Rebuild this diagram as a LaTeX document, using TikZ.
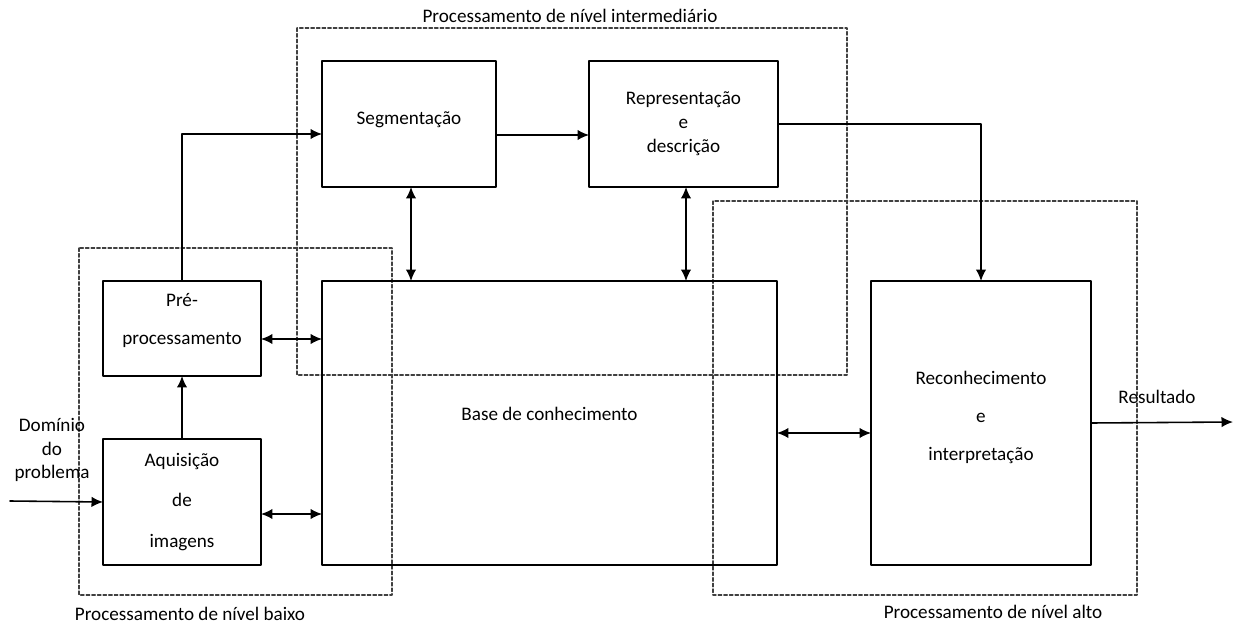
\documentclass[tikz,border=0pt]{standalone}
\usepackage{fontspec}
\setmainfont{Carlito}
\usetikzlibrary{arrows.meta, positioning, calc}

\begin{document}
\begin{tikzpicture}[x=0.02cm, y=-0.02cm, >={Latex[length=2.3mm,width=2.1mm]}, line cap=round, line join=round,
	font=\fontsize{10.9}{13.6}\selectfont]
	
	\tikzset{
		bloco/.style={draw, line width=0.9pt, inner sep=0pt, outer sep=0pt, align=center},
		seta/.style={line width=0.9pt, ->},
		dupla/.style={line width=0.9pt, <->},
		grupo/.style={draw=black!75, line width=0.7pt, dash pattern=on 2pt off 1.2pt},
		rotulo/.style={inner sep=0pt}
	}
	
	\useasboundingbox (0,0) rectangle (1237,625);
	
	% grupos tracejados
	\draw[grupo] (79,248) rectangle (392,595);
	\draw[grupo] (297,28) rectangle (847,375);
	\draw[grupo] (713,201) rectangle (1137,595);
	
	\node[rotulo] (lbaixo) at (190,614) {Processamento de nível baixo};
	\node[rotulo] (lmedio) at (570,16) {Processamento de nível intermediário};
	\node[rotulo] (lalto)  at (993,612) {Processamento de nível alto};
	
	% blocos
	\node[bloco, minimum width=3.16cm, minimum height=2.52cm] (aq) at (182,502) {Aquisição\\[9.5pt] de\\[9.5pt] imagens};
	\node[bloco, minimum width=3.16cm, minimum height=1.9cm, text depth=0.4cm] (pre) at (182,328.5) {Pré-\\[8pt] processamento};
	\node[bloco, minimum width=3.48cm, minimum height=2.52cm, text depth=0.25cm] (seg) at (409,124) {Segmentação};
	\node[bloco, minimum width=3.78cm, minimum height=2.52cm] (rep) at (683.5,124) {Representação\\ e\\ descrição};
	\node[bloco, minimum width=9.1cm, minimum height=5.68cm, text depth=0.35cm] (base) at (549.5,423) {Base de conhecimento};
	\node[bloco, minimum width=4.4cm, minimum height=5.68cm, text depth=0.3cm] (rec) at (981,423) {Reconhecimento\\[8pt] e\\[8pt] interpretação};
	
	% entrada e saida
	\coordinate (entrada) at (10,501);
	\coordinate (saida) at (1233,422);
	\node[rotulo, align=center] (dominio) at (52,450) {Domínio\\ do\\ problema};
	\node[rotulo] (result) at (1157,397) {Resultado};
	
	\draw[seta] (entrada) -- (aq.west);
	\draw[seta] (aq.north) -- (pre.south);
	\draw[seta] (pre.north) |- ([yshift=-0.2cm]seg.west);
	\draw[seta] ([yshift=-0.22cm]seg.east) -- ([yshift=-0.22cm]rep.west);
	\draw[seta] (rep.east) -| (rec.north);
	\draw[seta] (rec.east) -- (saida);
	
	\draw[dupla] ([xshift=0.04cm]seg.south) -- ([xshift=0.04cm]seg.south |- base.north);
	\draw[dupla] ([xshift=0.05cm]rep.south) -- ([xshift=0.05cm]rep.south |- base.north);
	\draw[dupla] ([yshift=-0.21cm]pre.east) -- ([yshift=-0.21cm]pre.east -| base.west);
	\draw[dupla] ([yshift=-0.24cm]aq.east) -- ([yshift=-0.24cm]aq.east -| base.west);
	\draw[dupla] ([yshift=-0.2cm]base.east) -- ([yshift=-0.2cm]base.east -| rec.west);
	
\end{tikzpicture}
\end{document}
